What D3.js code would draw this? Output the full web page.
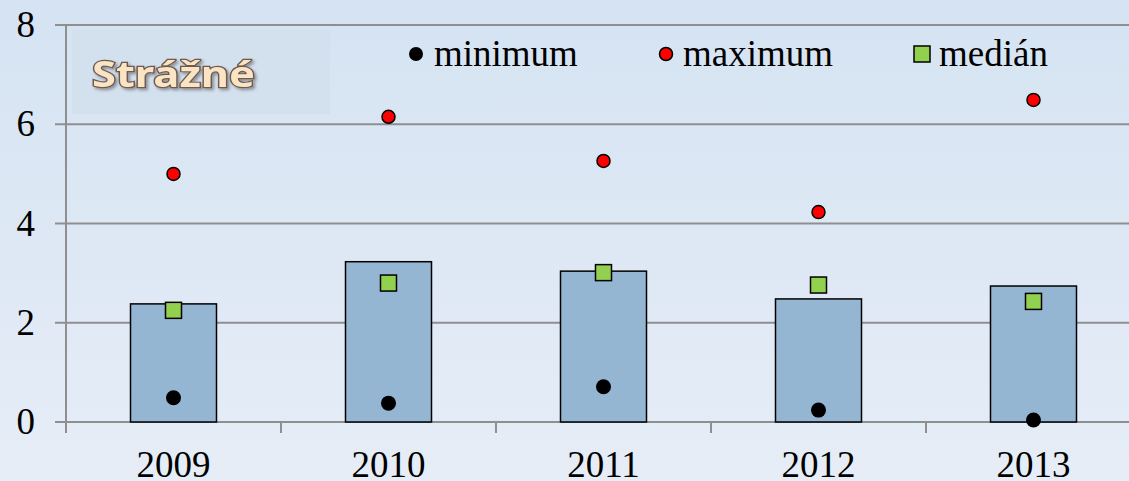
<!DOCTYPE html>
<html>
<head>
<meta charset="utf-8">
<script src="https://cdn.jsdelivr.net/npm/d3@7"></script>
<style>
body { margin: 0; overflow: hidden; }
svg { display: block; }
</style>
</head>
<body>
<script>
var years = ["2009", "2010", "2011", "2012", "2013"];
var average = [2.38, 3.23, 3.04, 2.48, 2.74];
var minimum = [0.49, 0.38, 0.71, 0.24, 0.04];
var maximum = [5.0, 6.15, 5.26, 4.23, 6.49];
var median = [2.25, 2.80, 3.01, 2.76, 2.43];
var yTicks = [0, 2, 4, 6, 8];

var w = 1129, h = 481;
var plotLeft = 66, plotTop = 25, plotBottom = 422;
var serif = "'Liberation Serif', 'Times New Roman', serif";

var svg = d3.select("body").append("svg")
    .attr("width", w)
    .attr("height", h);

var defs = svg.append("defs");
var grad = defs.append("linearGradient")
    .attr("id", "bg")
    .attr("x1", 0).attr("y1", 0).attr("x2", 0).attr("y2", 1);
grad.append("stop").attr("offset", "0%").attr("stop-color", "#d5e3f2");
grad.append("stop").attr("offset", "100%").attr("stop-color", "#e6edf7");

var shadow = defs.append("filter").attr("id", "shadow")
    .attr("x", "-10%").attr("y", "-20%").attr("width", "130%").attr("height", "150%");
shadow.append("feDropShadow")
    .attr("dx", 2).attr("dy", 2).attr("stdDeviation", 1.5)
    .attr("flood-color", "#000").attr("flood-opacity", 0.35);

svg.append("rect")
    .attr("width", w).attr("height", h)
    .style("fill", "url(#bg)");

var x = d3.scaleBand()
    .domain(years)
    .range([plotLeft, plotLeft + 5 * 215])
    .paddingInner(0)
    .paddingOuter(0);

var y = d3.scaleLinear()
    .domain([0, 8])
    .range([plotBottom, plotTop]);

function cx(i){ return x(years[i]) + x.bandwidth() / 2; }

// title box
svg.append("rect")
    .attr("x", 72).attr("y", 30)
    .attr("width", 258).attr("height", 84)
    .style("fill", "#d3e0ed");

svg.append("text")
    .attr("x", 92).attr("y", 87)
    .attr("textLength", 163)
    .attr("lengthAdjust", "spacingAndGlyphs")
    .style("font-family", "'Noto Sans', sans-serif")
    .style("font-weight", "bold")
    .style("font-size", "35px")
    .style("fill", "#fbe4c4")
    .style("stroke", "#6f5a4e")
    .style("stroke-width", 2.4)
    .style("paint-order", "stroke")
    .style("filter", "url(#shadow)")
    .text("Strážné");

// gridlines
svg.append("g")
    .selectAll("line")
    .data(yTicks)
    .enter()
    .append("line")
    .attr("x1", plotLeft - 11)
    .attr("x2", w)
    .attr("y1", function(d){ return y(d); })
    .attr("y2", function(d){ return y(d); })
    .style("stroke", "#8f8f8f")
    .style("stroke-width", 2);

// y axis line
svg.append("line")
    .attr("x1", plotLeft).attr("x2", plotLeft)
    .attr("y1", plotTop).attr("y2", plotBottom + 11)
    .style("stroke", "#8f8f8f")
    .style("stroke-width", 2);

// x ticks between categories
svg.append("g")
    .selectAll("line")
    .data(years.slice(1))
    .enter()
    .append("line")
    .attr("x1", function(d){ return x(d); })
    .attr("x2", function(d){ return x(d); })
    .attr("y1", plotBottom)
    .attr("y2", plotBottom + 11)
    .style("stroke", "#8f8f8f")
    .style("stroke-width", 2);

// y labels
svg.append("g")
    .selectAll("text")
    .data(yTicks)
    .enter()
    .append("text")
    .attr("x", 35)
    .attr("y", function(d){ return y(d) + 12; })
    .attr("text-anchor", "end")
    .style("font-family", serif)
    .style("font-size", "37px")
    .text(function(d){ return d; });

// x labels
svg.append("g")
    .selectAll("text")
    .data(years)
    .enter()
    .append("text")
    .attr("x", function(d){ return x(d) + x.bandwidth() / 2; })
    .attr("y", 477)
    .attr("text-anchor", "middle")
    .style("font-family", serif)
    .style("font-size", "37px")
    .text(function(d){ return d; });

// bars
var barW = 86;
svg.append("g")
    .selectAll("rect")
    .data(average)
    .enter()
    .append("rect")
    .attr("x", function(d, i){ return cx(i) - barW / 2; })
    .attr("y", function(d){ return y(d); })
    .attr("width", barW)
    .attr("height", function(d){ return y(0) - y(d); })
    .style("fill", "#94b6d2")
    .style("stroke", "#000")
    .style("stroke-width", 1.5);

// min
svg.append("g")
    .selectAll("circle")
    .data(minimum)
    .enter()
    .append("circle")
    .attr("cx", function(d, i){ return cx(i); })
    .attr("cy", function(d){ return y(d); })
    .attr("r", 7.5)
    .style("fill", "#000");

// max
svg.append("g")
    .selectAll("circle")
    .data(maximum)
    .enter()
    .append("circle")
    .attr("cx", function(d, i){ return cx(i); })
    .attr("cy", function(d){ return y(d); })
    .attr("r", 6.5)
    .style("fill", "#ff0000")
    .style("stroke", "#000")
    .style("stroke-width", 1.5);

// median
svg.append("g")
    .selectAll("rect")
    .data(median)
    .enter()
    .append("rect")
    .attr("x", function(d, i){ return cx(i) - 8; })
    .attr("y", function(d){ return y(d) - 8; })
    .attr("width", 16)
    .attr("height", 16)
    .style("fill", "#92d050")
    .style("stroke", "#000")
    .style("stroke-width", 1.5);

// legend
var legend = svg.append("g");
legend.append("circle")
    .attr("cx", 416).attr("cy", 54).attr("r", 7)
    .style("fill", "#000");
legend.append("circle")
    .attr("cx", 666).attr("cy", 54).attr("r", 6.5)
    .style("fill", "#ff0000")
    .style("stroke", "#000").style("stroke-width", 1.5);
legend.append("rect")
    .attr("x", 914).attr("y", 46).attr("width", 16).attr("height", 16)
    .style("fill", "#92d050")
    .style("stroke", "#000").style("stroke-width", 1.5);

var legendText = [["minimum", 434], ["maximum", 683], ["medián", 939]];
legend.selectAll("text")
    .data(legendText)
    .enter()
    .append("text")
    .attr("x", function(d){ return d[1]; })
    .attr("y", 66)
    .style("font-family", serif)
    .style("font-size", "37px")
    .text(function(d){ return d[0]; });
</script>
</body>
</html>
